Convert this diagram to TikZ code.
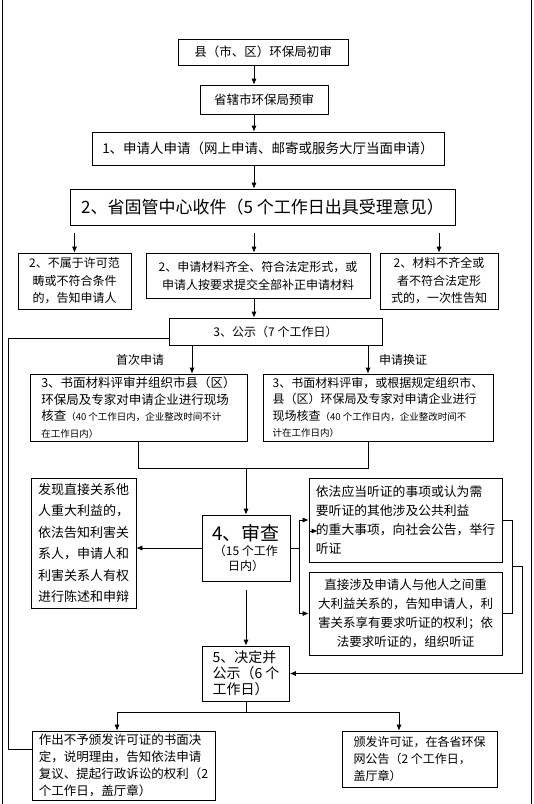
\documentclass[tikz,border=0pt]{standalone}
\usepackage{fontspec}
\setmainfont{Noto Sans CJK SC}
\usepackage{tikz}
\usetikzlibrary{arrows.meta}

\newcommand{\fs}[2]{\fontsize{#1}{#2}\selectfont}

\begin{document}
\begin{tikzpicture}[x=1pt, y=-1pt,
  box/.style={draw, line width=0.7pt, inner sep=0pt, align=center},
  arr/.style={-{Latex[length=6pt,width=5pt]}, line width=0.7pt},
  line/.style={line width=0.7pt}]
  \useasboundingbox (0,0) rectangle (534,804);
  \draw[line] (2,0) -- (2,804); % frame left
  \draw[line] (531,0) -- (531,804); % frame right

  % top chain
  \node[box, minimum width=170pt, minimum height=26pt, font=\fs{12.5}{16}] (pre1) at (263,52) {县（市、区）环保局初审};
  \node[box, minimum width=128pt, minimum height=29pt, font=\fs{12.5}{16}] (pre2) at (264,99.5) {省辖市环保局预审};
  \node[box, minimum width=352pt, minimum height=33pt, font=\fs{13.5}{17}] (apply) at (268,148.5) {1、申请人申请（网上申请、邮寄或服务大厅当面申请）};
  \node[box, minimum width=385pt, minimum height=36pt, font=\fs{17}{20}] (recv) at (262.5,207) {2、省固管中心收件（5 个工作日出具受理意见）};

  % three outcomes
  \node[box, minimum width=113pt, minimum height=56pt, font=\fs{12}{17.5}] (notin) at (74.5,281) {2、不属于许可范\\畴或不符合条件\\的，告知申请人};
  \node[box, minimum width=224pt, minimum height=45pt, font=\fs{12}{18}] (full) at (258,275.5) {2、申请材料齐全、符合法定形式，或\\申请人按要求提交全部补正申请材料};
  \node[box, minimum width=118pt, minimum height=56pt, font=\fs{12}{17.5}] (lack) at (439,281) {2、材料不齐全或\\者不符合法定形\\式的，一次性告知};

  \node[box, minimum width=213pt, minimum height=27pt, font=\fs{12}{16}] (pub) at (275.5,331.5) {3、公示（7 个工作日）};
  \node[font=\fs{12}{16}] (first) at (140,360) {首次申请};
  \node[font=\fs{12}{16}] (renew) at (403,360) {申请换证};

  % review boxes
  \node[box, align=left, minimum width=217pt, minimum height=67pt, font=\fs{12.5}{16.5}] (revL) at (138.5,407.5) {3、书面材料评审并组织市县（区）\\环保局及专家对申请企业进行现场\\核查{\fs{9.5}{16}（40 个工作日内，企业整改时间不计}\\{\fs{9.5}{16}在工作日内）}};
  \node[box, align=left, minimum width=230pt, minimum height=67pt, font=\fs{12}{16.5}] (revR) at (378,407.5) {3、书面材料评审，或根据规定组织市、\\县（区）环保局及专家对申请企业进行\\现场核查{\fs{9.5}{16}（40 个工作日内，企业整改时间不}\\{\fs{9.5}{16}计在工作日内）}};

  % examination
  \node[box, minimum width=88pt, minimum height=66pt, font=\fs{12}{15}] (exam) at (246,548) {{\fs{19}{22}4、审查}\\（15 个工作\\日内）};
  \node[box, align=left, minimum width=105pt, minimum height=130pt, font=\fs{13}{21.5}] (notify) at (83.5,543) {发现直接关系他\\人重大利益的，\\依法告知利害关\\系人，申请人和\\利害关系人有权\\进行陈述和申辩};
  \node[box, align=left, minimum width=193pt, minimum height=84pt, font=\fs{12.8}{19}] (hearA) at (405.5,520) {依法应当听证的事项或认为需\\要听证的其他涉及公共利益\\的重大事项，向社会公告，举行\\听证};
  \node[box, minimum width=193pt, minimum height=83pt, font=\fs{12.5}{19}] (hearB) at (405.5,613.5) {直接涉及申请人与他人之间重\\大利益关系的，告知申请人，利\\害关系享有要求听证的权利；依\\法要求听证的，组织听证};

  % decision
  \node[box, align=left, minimum width=87pt, minimum height=55pt, font=\fs{14}{16}] (decide) at (246,673.5) {5、决定并\\公示（6 个\\工作日）};
  \node[box, align=left, minimum width=183pt, minimum height=69pt, font=\fs{12.5}{17}] (deny) at (123.5,765.5) {作出不予颁发许可证的书面决\\定，说明理由，告知依法申请\\复议、提起行政诉讼的权利（2\\个工作日，盖厅章）};
  \node[box, align=left, minimum width=155pt, minimum height=56pt, font=\fs{12}{17}] (grant) at (419.5,759) {颁发许可证，在各省环保\\网公告（2 个工作日，\\盖厅章）};

  % helper coordinates
  \coordinate (mx) at (254,0);
  \coordinate (b2) at (0,233);
  \coordinate (fx) at (192,0);
  \coordinate (fy) at (368,0);
  \coordinate (jn) at (0,468);
  \coordinate (bx) at (299,0);
  \coordinate (bk1) at (512,0);
  \coordinate (bk2) at (522,0);
  \coordinate (bm) at (512,566);
  \coordinate (sp) at (0,712);
  \coordinate (lx) at (117,0);
  \coordinate (rx) at (399,0);
  \coordinate (fb) at (8,338);
  \coordinate (fb2) at (8,749);

  % connectors
  \draw[arr] (pre1.south -| mx) -- (pre2.north -| mx);
  \draw[arr] (pre2.south -| mx) -- (apply.north -| mx);
  \draw[arr] (apply.south -| mx) -- (recv.north -| mx);
  \draw[arr] (notin.north |- b2) -- (notin.north);
  \draw[arr] (mx |- b2) -- (full.north -| mx);
  \draw[arr] (lack.north |- b2) -- (lack.north);
  \draw[arr] (full.south -| mx) -- (pub.north -| mx);
  \draw[arr] (pub.south -| fx) -- (revL.north -| fx);
  \draw[arr] (pub.south -| fy) -- (revR.north -| fy);
  \draw[line] (revL.south) -- (revL.south |- jn) -- (fy |- jn) -- (revR.south -| fy);
  \draw[arr] (exam.north |- jn) -- (exam.north);
  \draw[arr] (exam.west) -- (exam.west -| notify.east);
  \draw[line] (exam.east) -- (exam.east -| bx);
  \draw[arr] (exam.east -| bx) |- (hearA.west);
  \draw[arr] (exam.east -| bx) |- (hearB.west);
  \draw[arr] ([shift={(1pt,-11pt)}]hearA.west) -- ++(8,0); % small arrow
  \draw[line] (hearA.east) -- (hearA.east -| bk1) -- (hearB.east -| bk1) -- (hearB.east);
  \draw[arr] (bm) -- (bm -| bk2) |- (decide.east);
  \draw[arr] ([yshift=-9pt]exam.south) -- (decide.north);
  \draw[line] (decide.south) -- (decide.south |- sp);
  \draw[arr] (decide.south |- sp) -| (deny.north -| lx);
  \draw[arr] (decide.south |- sp) -| (grant.north -| rx);
  \draw[line] (pub.west |- fb) -- (fb) -- (fb2) -- (deny.west |- fb2); % back line
\end{tikzpicture}
\end{document}
